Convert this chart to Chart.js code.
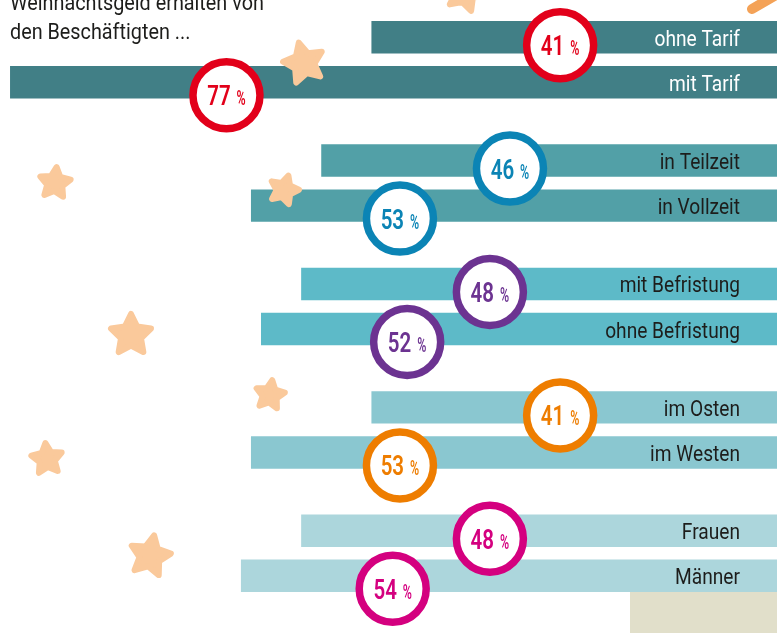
<!DOCTYPE html>
<html lang="de">
<head>
<meta charset="utf-8">
<script src="https://cdn.jsdelivr.net/npm/chart.js@4/dist/chart.umd.min.js"></script>
<style>
html, body { margin: 0; padding: 0; background: #fff; overflow: hidden; }
#wrap { position: relative; width: 777px; height: 633px; overflow: hidden; }
#wrap canvas { position: absolute; left: 0; top: -2px; }
</style>
</head>
<body>
<div id="wrap"><canvas id="weihnachtsgeld" width="790" height="635"></canvas></div>
<script>
// Daten
const gruppen = ['Tarifbindung', 'Arbeitszeit', 'Befristung', 'Region', 'Geschlecht'];
const obenLabels = ['ohne Tarif', 'in Teilzeit', 'mit Befristung', 'im Osten', 'Frauen'];
const obenWerte = [41, 46, 48, 41, 48];
const untenLabels = ['mit Tarif', 'in Vollzeit', 'ohne Befristung', 'im Westen', 'Männer'];
const untenWerte = [77, 53, 52, 53, 54];
const titelZeilen = ['Weihnachtsgeld erhalten von', 'den Beschäftigten ...'];

// Farben
const balkenFarben = ['#417f86', '#52a0a7', '#5dbac8', '#8ac7d0', '#acd6dc'];
const textFarben = ['#ffffff', '#1d1d1b', '#1d1d1b', '#1d1d1b', '#1d1d1b'];
const ringFarben = ['#e2001a', '#0b84b5', '#6c3391', '#ee7d00', '#d4007f'];
const sternFarbe = '#fac99b';

// Deko-Sterne (Seitenkoordinaten): x, y, Radius, Drehung
const sterne = [
    [465, -7, 19, 0.3], [304, 63, 21, -0.25], [55, 183, 16, 0.1], [284, 190, 15, 0.3],
    [131, 335, 21, 0], [270, 395, 15, 0.15], [47, 459, 16, -0.1], [150, 556, 21, 0.2]
];
const versatz = 2; // Canvas liegt 2px über der Seite

function schmal(ctx, text, x, y, faktor) {
    const w = ctx.measureText(text).width;
    ctx.fillText(text, x, y, w * faktor);
}

function stern(ctx, x, y, r, rot) {
    ctx.beginPath();
    for (let i = 0; i < 10; i++) {
        const rr = i % 2 === 0 ? r : r * 0.5;
        const a = rot - Math.PI / 2 + i * Math.PI / 5;
        ctx.lineTo(x + Math.cos(a) * rr, y + Math.sin(a) * rr);
    }
    ctx.closePath();
    ctx.fill();
    ctx.stroke();
}

const dekoPlugin = {
    id: 'deko',
    beforeDatasetsDraw(chart) {
        const ctx = chart.ctx;
        ctx.save();
        ctx.translate(0, versatz);
        // beige Fläche unten rechts
        ctx.fillStyle = '#e1dfca';
        ctx.fillRect(630, 589, 160, 44);
        ctx.restore();
    },
    afterDatasetsDraw(chart) {
        const ctx = chart.ctx;
        const xs = chart.scales.x;
        ctx.save();

        // Beschriftung in den Balken
        ctx.font = '22px Roboto';
        ctx.textAlign = 'right';
        chart.data.datasets.forEach((ds, d) => {
            chart.getDatasetMeta(d).data.forEach((bar, i) => {
                ctx.fillStyle = textFarben[i];
                schmal(ctx, ds.texte[i], chart.chartArea.right - 43, bar.y + 8.5, 0.87);
            });
        });

        // Sterne und Strich
        ctx.save();
        ctx.translate(0, versatz);
        ctx.fillStyle = sternFarbe;
        ctx.strokeStyle = sternFarbe;
        ctx.lineJoin = 'round';
        ctx.lineWidth = 6;
        sterne.forEach(s => stern(ctx, s[0], s[1], s[2], s[3]));
        ctx.strokeStyle = '#f4a257';
        ctx.lineWidth = 10;
        ctx.lineCap = 'round';
        ctx.beginPath();
        ctx.moveTo(752, 9);
        ctx.lineTo(795, -16);
        ctx.stroke();
        ctx.restore();

        // Kreise mit Prozentwerten
        chart.data.datasets.forEach((ds, d) => {
            chart.getDatasetMeta(d).data.forEach((bar, i) => {
                const v = ds.data[i];
                const cx = xs.getPixelForValue(ds.ringAt(v));
                const cy = bar.y + ds.ringDy;
                ctx.beginPath();
                ctx.arc(cx, cy, 33.5, 0, Math.PI * 2);
                ctx.fillStyle = '#fff';
                ctx.fill();
                ctx.lineWidth = 7.5;
                ctx.strokeStyle = ringFarben[i];
                ctx.stroke();

                ctx.fillStyle = ringFarben[i];
                ctx.textAlign = 'left';
                ctx.font = '600 27px Roboto';
                const zahl = String(v);
                const zw = ctx.measureText(zahl).width * 0.76;
                ctx.font = '600 20px Roboto';
                const pw = ctx.measureText('%').width * 0.62;
                const start = cx - (zw + 6 + pw) / 2;
                const base = cy + 10;
                ctx.font = '600 27px Roboto';
                ctx.fillText(zahl, start, base, zw);
                ctx.font = '600 20px Roboto';
                ctx.fillText('%', start + zw + 6, base, pw);
            });
        });
        ctx.restore();
    },
    afterDraw(chart) {
        const ctx = chart.ctx;
        ctx.save();
        ctx.translate(0, versatz);
        ctx.font = '22px Roboto';
        ctx.fillStyle = '#1d1d1b';
        ctx.textAlign = 'left';
        titelZeilen.forEach((z, i) => schmal(ctx, z, 10, 10 + i * 29, 0.9));
        ctx.restore();
    }
};

const ctx = document.getElementById('weihnachtsgeld').getContext('2d');
const chart = new Chart(ctx, {
    type: 'bar',
    data: {
        labels: gruppen,
        datasets: [{
            label: 'oben',
            data: obenWerte,
            texte: obenLabels,
            ringAt: v => v - 18.8,
            ringDy: 8,
            backgroundColor: balkenFarben,
            borderWidth: 0,
            categoryPercentage: 0.73,
            barPercentage: 0.72
        }, {
            label: 'unten',
            data: untenWerte,
            texte: untenLabels,
            ringAt: v => v * 0.72,
            ringDy: 13,
            backgroundColor: balkenFarben,
            borderWidth: 0,
            categoryPercentage: 0.73,
            barPercentage: 0.72
        }]
    },
    options: {
        indexAxis: 'y',
        responsive: false,
        animation: false,
        layout: { padding: { left: 0, right: 7, top: 0, bottom: 18 } },
        scales: {
            x: { type: 'linear', min: 0, max: 78, reverse: true, display: false },
            y: { display: false }
        },
        plugins: {
            legend: { display: false },
            tooltip: { enabled: false }
        }
    },
    plugins: [dekoPlugin]
});
</script>
</body>
</html>
